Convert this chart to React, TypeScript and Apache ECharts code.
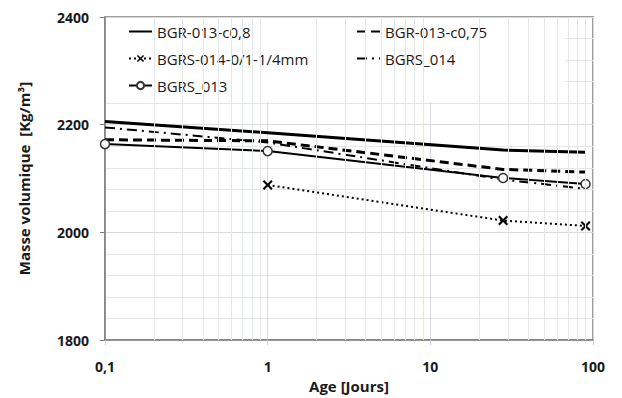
import React, { useEffect, useRef } from "react";
import * as echarts from "echarts";

const ages = [0.1, 1, 28, 90];
const agesBgrs014mm = [1, 28, 90];
const bgr013c08 = [2206, 2185, 2153, 2149];
const bgr013c075 = [2172, 2170, 2117, 2112];
const bgrs014mm = [2088, 2022, 2012];
const bgrs014 = [2195, 2167, 2098, 2081];
const bgrs013 = [2164, 2151, 2101, 2090];

const seriesNames = ["BGR-013-c0,8", "BGR-013-c0,75", "BGRS-014-0/1-1/4mm", "BGRS_014", "BGRS_013"];
const minorAgeLines = [0.2, 0.3, 0.4, 0.5, 0.6, 0.7, 0.8, 0.9, 2, 3, 4, 5, 6, 7, 8, 9, 20, 30, 40, 50, 60, 70, 80, 90];
const yTicks = { min: 1800, max: 2400, interval: 200 };

const pairs = (xs: number[], ys: number[]) => xs.map((x, i) => [x, ys[i]]);

const FONT = "'Open Sans', 'Noto Sans', sans-serif";
const X_SYMBOL = "path://M0,1.5 L1.5,0 L5,3.5 L8.5,0 L10,1.5 L6.5,5 L10,8.5 L8.5,10 L5,6.5 L1.5,10 L0,8.5 L3.5,5 Z";

export default function App() {
  const ref = useRef<HTMLDivElement>(null);
  useEffect(() => {
    if (!ref.current) return;
    const chart = echarts.init(ref.current, undefined, { renderer: "svg" });
    const legendText = { fontFamily: FONT, fontSize: 15, color: "#1a1a1a" };
    const legendCommon = {
      orient: "vertical",
      top: 24,
      padding: 0,
      itemGap: 12,
      itemWidth: 23,
      itemHeight: 9,
      textStyle: legendText,
      z: 5,
    };
    chart.setOption({
      animation: false,
      backgroundColor: "#ffffff",
      grid: {
        left: 105,
        right: 29,
        top: 17,
        bottom: 51,
        show: true,
        borderColor: "#7f7f7f",
        borderWidth: 1.5,
        backgroundColor: "transparent",
      },
      graphic: [
        {
          type: "rect",
          z: 2,
          shape: { x: 106, y: 18, width: 459, height: 84 },
          style: { fill: "#ffffff" },
          silent: true,
        },
      ],
      legend: [
        { ...legendCommon, data: [seriesNames[0], seriesNames[2], seriesNames[4]], left: 128 },
        { ...legendCommon, data: [seriesNames[1], seriesNames[3]], left: 356 },
      ],
      xAxis: {
        type: "log",
        logBase: 10,
        min: 0.1,
        max: 100,
        name: "Age [Jours]",
        nameLocation: "middle",
        nameGap: 34,
        nameTextStyle: { fontFamily: FONT, fontSize: 15, fontWeight: "bold", color: "#1a1a1a" },
        axisLine: { show: true, lineStyle: { color: "#7f7f7f", width: 1.5 } },
        axisTick: { show: true, length: 5, lineStyle: { color: "#c9d3e0" } },
        axisLabel: {
          margin: 19,
          fontFamily: FONT,
          fontSize: 14,
          fontWeight: "bold",
          color: "#1a1a1a",
          formatter: (v: number) => String(v).replace(".", ","),
        },
        splitLine: { show: true, lineStyle: { color: "#d6dbe3", width: 1 } },
        minorTick: { show: false },
        minorSplitLine: { show: false },
      },
      yAxis: {
        type: "value",
        min: yTicks.min,
        max: yTicks.max,
        interval: yTicks.interval,
        name: "Masse volumique  [Kg/m³]",
        nameLocation: "middle",
        nameGap: 74,
        nameRotate: 90,
        nameTextStyle: { fontFamily: FONT, fontSize: 15, fontWeight: "bold", color: "#1a1a1a" },
        axisLine: { show: true, lineStyle: { color: "#7f7f7f", width: 1.5 } },
        axisTick: { show: true, length: 5, lineStyle: { color: "#7f7f7f" } },
        axisLabel: {
          margin: 16,
          fontFamily: FONT,
          fontSize: 14,
          fontWeight: "bold",
          color: "#1a1a1a",
          formatter: (v: number) => String(v),
        },
        splitLine: { show: true, lineStyle: { color: "#d9d9d9", width: 1 } },
        minorTick: { show: false, splitNumber: 5 },
        minorSplitLine: { show: true, lineStyle: { color: "#e6e6e6", width: 1 } },
      },
      series: [
        {
          name: "__minor",
          type: "line",
          data: [],
          z: 1,
          silent: true,
          markLine: {
            silent: true,
            symbol: ["none", "none"],
            label: { show: false },
            lineStyle: { color: "#e3e6eb", type: "solid", width: 1 },
            data: minorAgeLines.map((v) => ({ xAxis: v })),
            animation: false,
          },
        },
        {
          name: seriesNames[0],
          type: "line",
          data: pairs(ages, bgr013c08),
          symbol: "none",
          z: 3,
          lineStyle: { color: "#000", width: 3, type: "solid" },
          itemStyle: { color: "transparent", borderWidth: 0 },
        },
        {
          name: seriesNames[1],
          type: "line",
          data: pairs(ages, bgr013c075),
          symbol: "none",
          z: 3,
          lineStyle: { color: "#000", width: 3, type: [9, 5] },
          itemStyle: { color: "transparent", borderWidth: 0 },
        },
        {
          name: seriesNames[2],
          type: "line",
          data: pairs(agesBgrs014mm, bgrs014mm),
          symbol: X_SYMBOL,
          symbolSize: 10,
          showAllSymbol: true,
          z: 3,
          lineStyle: { color: "#000", width: 2, type: [2, 3] },
          itemStyle: { color: "#000" },
        },
        {
          name: seriesNames[3],
          type: "line",
          data: pairs(ages, bgrs014),
          symbol: "none",
          z: 3,
          lineStyle: { color: "#000", width: 2, type: [10, 5, 2, 5] },
          itemStyle: { color: "transparent", borderWidth: 0 },
        },
        {
          name: seriesNames[4],
          type: "line",
          data: pairs(ages, bgrs013),
          symbol: "circle",
          symbolSize: 9,
          showAllSymbol: true,
          z: 3,
          lineStyle: { color: "#000", width: 2, type: "solid" },
          itemStyle: { color: "#ffffff", borderColor: "#333", borderWidth: 1.5 },
        },
      ],
    });
    return () => chart.dispose();
  }, []);
  return <div ref={ref} style={{ width: 622, height: 398, position: "absolute", left: 0, top: 0 }} />;
}
